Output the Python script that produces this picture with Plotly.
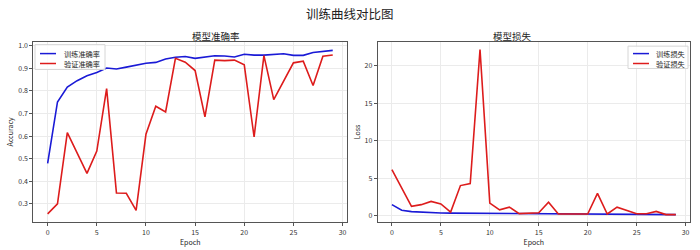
import plotly.graph_objects as go

epochs = list(range(30))
train_acc = [0.479, 0.751, 0.817, 0.845, 0.867, 0.881, 0.901, 0.897, 0.905, 0.913,
             0.922, 0.926, 0.941, 0.949, 0.952, 0.944, 0.951, 0.955, 0.954, 0.950,
             0.962, 0.958, 0.958, 0.961, 0.964, 0.957, 0.957, 0.970, 0.976, 0.979]
val_acc = [0.256, 0.300, 0.615, 0.523, 0.435, 0.534, 0.810, 0.348, 0.347, 0.271,
           0.608, 0.732, 0.707, 0.944, 0.927, 0.890, 0.685, 0.936, 0.934, 0.936,
           0.915, 0.596, 0.956, 0.761, 0.842, 0.924, 0.931, 0.824, 0.953, 0.959]
train_loss = [1.45, 0.70, 0.52, 0.43, 0.37, 0.33, 0.31, 0.30, 0.29, 0.28,
              0.27, 0.26, 0.25, 0.24, 0.23, 0.22, 0.21, 0.21, 0.20, 0.19,
              0.18, 0.18, 0.17, 0.16, 0.16, 0.15, 0.14, 0.14, 0.13, 0.12]
val_loss = [6.14, 3.7, 1.23, 1.45, 1.88, 1.55, 0.45, 4.0, 4.27, 22.2,
            1.66, 0.75, 1.12, 0.25, 0.28, 0.36, 1.78, 0.2, 0.2, 0.2,
            0.2, 2.95, 0.2, 1.12, 0.64, 0.23, 0.23, 0.55, 0.12, 0.12]

x_ticks = [0, 5, 10, 15, 20, 25, 30]
acc_ticks = [0.3, 0.4, 0.5, 0.6, 0.7, 0.8, 0.9, 1.0]
loss_ticks = [0, 5, 10, 15, 20]

FONT = "Noto Sans CJK SC, DejaVu Sans, sans-serif"
BLUE = "#1a1ad6"
RED = "#dd1c1c"
W, H = 700, 250

series = [
    (train_acc, "训练准确率", BLUE, "x", "y"),
    (val_acc, "验证准确率", RED, "x", "y"),
    (train_loss, "训练损失", BLUE, "x2", "y2"),
    (val_loss, "验证损失", RED, "x2", "y2"),
]

fig = go.Figure()
for vals, name, col, xa, ya in series:
    fig.add_trace(go.Scatter(x=epochs, y=vals, mode="lines", name=name, showlegend=False,
                             line=dict(color=col, width=1.6), xaxis=xa, yaxis=ya))

axis_common = dict(showgrid=True, gridcolor="#ebebeb", gridwidth=0.6, zeroline=False,
                   showline=True, linecolor="#555555", linewidth=1, mirror=True,
                   ticks="outside", ticklen=3, tickcolor="#555555",
                   tickfont=dict(size=7, color="#333333", family=FONT))


def px(x):
    return x / W


def py(y):
    return 1 - y / H


shapes = []
annotations = []

# manual legends: (box, sample x-range, text x, row ys, entries)
legends = [
    ((35, 43, 105, 68), (40, 56), 61.5, (52.0, 62.0), series[0:2]),
    ((628, 44.5, 688, 67), (633, 649), 653.5, (52.0, 62.0), series[2:4]),
]
for (bx0, by0, bx1, by1), (sx0, sx1), tx, rows, ents in legends:
    shapes.append(dict(type="rect", xref="paper", yref="paper",
                       x0=px(bx0), x1=px(bx1), y0=py(by1), y1=py(by0),
                       line=dict(color="#d6d6d6", width=1), fillcolor="rgba(255,255,255,0.85)",
                       layer="above"))
    for ry, (vals, name, col, xa, ya) in zip(rows, ents):
        shapes.append(dict(type="line", xref="paper", yref="paper",
                           x0=px(sx0), x1=px(sx1), y0=py(ry), y1=py(ry),
                           line=dict(color=col, width=1.5), layer="above"))
        annotations.append(dict(text=name, x=px(tx), y=py(ry), xref="paper", yref="paper",
                                xanchor="left", yanchor="middle", showarrow=False,
                                font=dict(size=7.2, family=FONT, color="#222222")))

annotations += [
    dict(text="训练曲线对比图", x=0.5, y=py(12), xref="paper", yref="paper", showarrow=False,
         yanchor="middle", font=dict(size=12.5, family=FONT, color="#222222")),
    dict(text="模型准确率", x=(0.0477 + 0.4957) / 2, y=py(34), xref="paper", yref="paper",
         yanchor="middle", showarrow=False, font=dict(size=9.5, family=FONT, color="#222222")),
    dict(text="模型损失", x=(0.5396 + 0.9857) / 2, y=py(34), xref="paper", yref="paper",
         yanchor="middle", showarrow=False, font=dict(size=9.5, family=FONT, color="#222222")),
]

fig.update_layout(
    width=W, height=H,
    margin=dict(l=0, r=0, t=0, b=0),
    paper_bgcolor="white", plot_bgcolor="white",
    font=dict(family=FONT, color="#222222"),
    showlegend=False,
    xaxis=dict(domain=[0.0477, 0.4957], range=[-1.45, 30.45], tickvals=x_ticks, anchor="y",
               title=dict(text="Epoch", font=dict(size=7), standoff=0), **axis_common),
    yaxis=dict(domain=[0.112, 0.84], range=[0.219, 1.0176], tickvals=acc_ticks,
               ticktext=[f"{v:.1f}" for v in acc_ticks], anchor="x",
               title=dict(text="Accuracy", font=dict(size=7), standoff=3), **axis_common),
    xaxis2=dict(domain=[0.5396, 0.9857], range=[-1.45, 30.45], tickvals=x_ticks, anchor="y2",
                title=dict(text="Epoch", font=dict(size=7), standoff=0), **axis_common),
    yaxis2=dict(domain=[0.112, 0.84], range=[-0.9, 23.24], tickvals=loss_ticks, anchor="x2",
                title=dict(text="Loss", font=dict(size=7), standoff=3), **axis_common),
    shapes=shapes,
    annotations=annotations,
)

fig.write_html("out.html")
